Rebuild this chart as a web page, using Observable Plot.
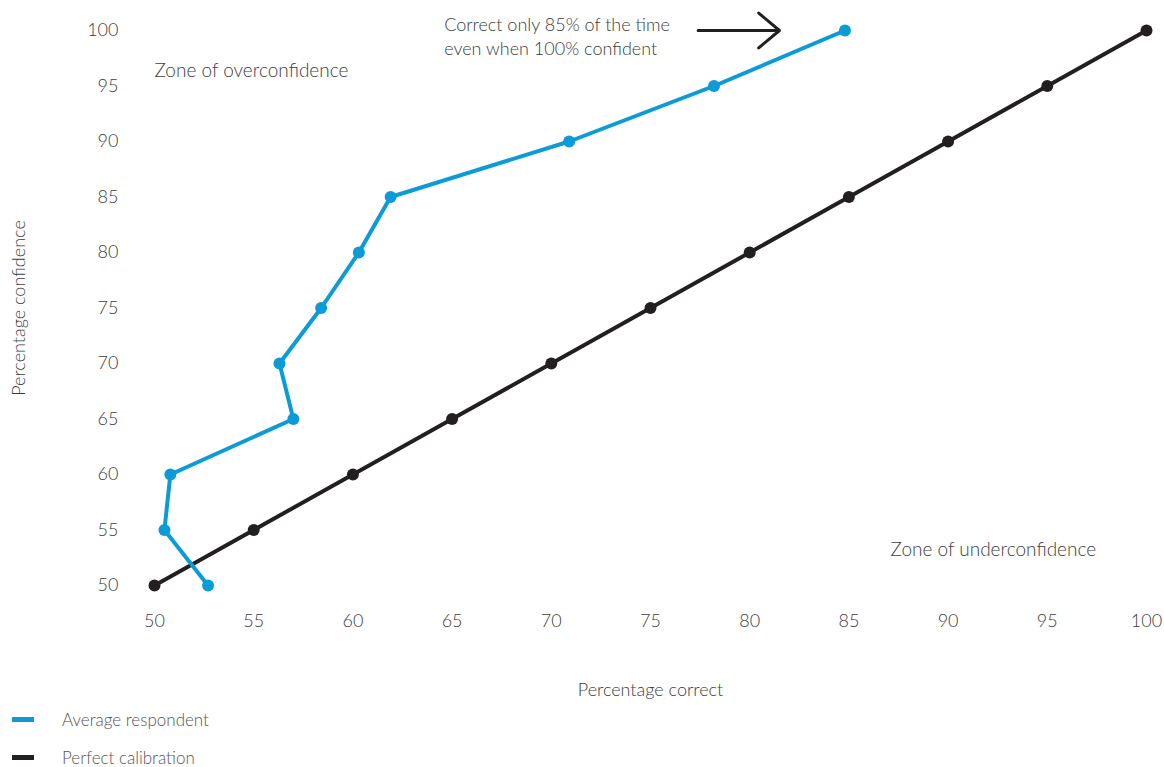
<!DOCTYPE html>
<html>
<head>
<meta charset="utf-8">
<script src="https://cdn.jsdelivr.net/npm/d3@7"></script>
<script src="https://cdn.jsdelivr.net/npm/@observablehq/plot@0.6"></script>
<style>
  body { margin: 0; background: #fff; font-family: Lato, "Open Sans", sans-serif; }
  #legend { margin-top: 0; padding-left: 12px; color: #555; font-size: 17px; font-weight: 300; }
  .row { display: flex; align-items: center; height: 38px; }
  .sw { width: 22px; height: 5px; margin-right: 28px; }
</style>
</head>
<body>
<div id="chart"></div>
<div id="legend"></div>
<script>
// Data
const confidenceLevels = [50, 55, 60, 65, 70, 75, 80, 85, 90, 95, 100];
const averageCorrect = [52.7, 50.5, 50.8, 57.0, 56.3, 58.4, 60.3, 61.9, 70.9, 78.2, 84.8];
const perfectCorrect = [50, 55, 60, 65, 70, 75, 80, 85, 90, 95, 100];
const tickValues = [50, 55, 60, 65, 70, 75, 80, 85, 90, 95, 100];
const seriesNames = ["Average respondent", "Perfect calibration"];
const seriesColors = ["#0b9bd7", "#231f20"];
const zoneLabels = [
  {text: "Zone of overconfidence", x: 50, y: 96.4},
  {text: "Zone of underconfidence", x: 87.1, y: 53.2}
];
const noteLabel = [{text: "Correct only 85% of the time\neven when 100% confident", x: 64.6, y: 99.55}];
const noteArrow = [{x1: 77.4, x2: 81.5, y: 100}];

const avg = confidenceLevels.map((c, i) => ({x: averageCorrect[i], y: c}));
const perf = confidenceLevels.map((c, i) => ({x: perfectCorrect[i], y: c}));

const font = "Lato, 'Open Sans', sans-serif";
const textColor = "#3c3c3c";

const plot = Plot.plot({
  width: 1164,
  height: 700,
  marginLeft: 154,
  marginRight: 18,
  marginTop: 30,
  marginBottom: 115,
  style: {fontFamily: font, fontSize: "18px", color: textColor, background: "#fff"},
  x: {domain: [50, 100]},
  y: {domain: [50, 100]},
  marks: [
    Plot.axisX({ticks: tickValues, tickSize: 0, tickPadding: 29, fontSize: 18, fontWeight: 300,
      label: "Percentage correct", labelAnchor: "center", labelArrow: "none", labelOffset: 110}),
    Plot.axisY({ticks: tickValues, tickSize: 0, tickPadding: 36, fontSize: 18, fontWeight: 300,
      label: "Percentage confidence", labelAnchor: "center", labelArrow: "none", labelOffset: 142}),
    Plot.line(perf, {x: "x", y: "y", stroke: seriesColors[1], strokeWidth: 4}),
    Plot.dot(perf, {x: "x", y: "y", fill: seriesColors[1], r: 6}),
    Plot.line(avg, {x: "x", y: "y", stroke: seriesColors[0], strokeWidth: 4}),
    Plot.dot(avg, {x: "x", y: "y", fill: seriesColors[0], r: 6}),
    Plot.text(zoneLabels, {x: "x", y: "y", text: "text", textAnchor: "start", fontSize: 19, fontWeight: 300, fill: textColor}),
    Plot.text(noteLabel, {x: "x", y: "y", text: "text", textAnchor: "start", fontSize: 18, fontWeight: 300, fill: textColor, lineHeight: 1.33}),
    Plot.arrow(noteArrow, {x1: "x1", y1: "y", x2: "x2", y2: "y", stroke: "#231f20", strokeWidth: 3, headAngle: 80, headLength: 14})
  ]
});
document.getElementById("chart").append(plot);

const legend = document.getElementById("legend");
seriesNames.forEach((n, i) => {
  const row = document.createElement("div");
  row.className = "row";
  const sw = document.createElement("div");
  sw.className = "sw";
  sw.style.background = seriesColors[i];
  const t = document.createElement("span");
  t.textContent = n;
  row.append(sw, t);
  legend.append(row);
});
</script>
</body>
</html>
